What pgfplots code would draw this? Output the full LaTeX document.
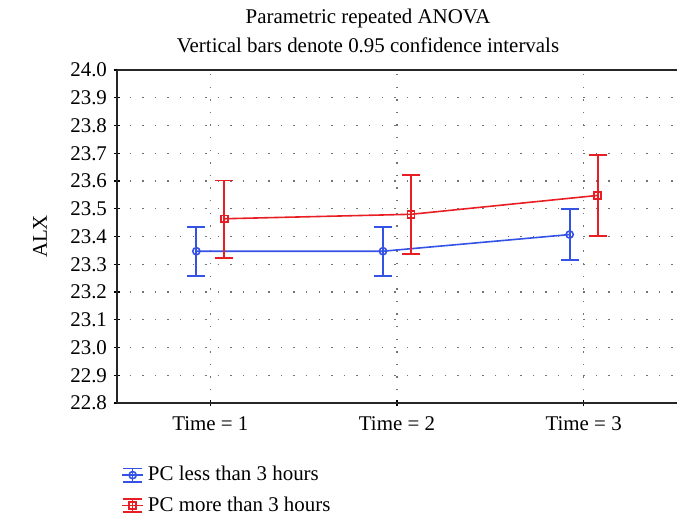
\documentclass[border=0pt]{standalone}
\usepackage{pgfplots}
\pgfplotsset{compat=1.18}
\usepackage{pgfplotstable}
\usepackage{fontspec}
\setmainfont{Liberation Serif}
\definecolor{cblue}{RGB}{52,82,230}
\definecolor{cred}{RGB}{232,30,36}
\pgfplotstableread{
x y ep em
0.925 23.347 0.087 0.089
1.925 23.347 0.088 0.090
2.925 23.407 0.091 0.091
}\bluedata
\pgfplotstableread{
x y ep em
1.075 23.464 0.138 0.141
2.075 23.480 0.142 0.143
3.075 23.548 0.147 0.147
}\reddata
\begin{document}
\begin{tikzpicture}
\useasboundingbox (-58.5bp,-61bp) rectangle (282.5bp,201.5bp);
\begin{axis}[
  at={(0,0)}, anchor=south west,
  width=280bp, height=166.5bp, scale only axis,
  xmin=0.5, xmax=3.5, ymin=22.8, ymax=24.0,
  axis x line=bottom, axis y line=left,
  axis line style={-, line width=0.8bp, black!85},
  xtick={1,2,3}, xticklabels={Time = 1, Time = 2, Time = 3},
  xticklabel style={yshift=-2bp},
  ytick={22.8,22.9,...,24.05},
  yticklabel style={/pgf/number format/.cd, fixed, fixed zerofill, precision=1},
  /pgf/number format/assume math mode=true,
  tick align=center, major tick length=3bp,
  tick style={black, line width=0.6bp},
  font=\fontsize{10.5}{12.5}\selectfont,
  grid=major,
  grid style={dash pattern=on 0.7bp off 5.6bp, black!55, line width=0.7bp},
  every axis y label/.style={at={(axis description cs:-0.1375,0.5)}, anchor=center, rotate=90},
  ylabel={ALX},
  legend style={at={(axis description cs:0,0)}, anchor=north west, xshift=-1bp, yshift=-27.5bp,
    draw=none, fill=none, row sep=2.5bp, font=\fontsize{10.5}{12.5}\selectfont},
  legend cell align=left,
  legend image code/.code={
    \draw[#1, mark=none] (0bp,0bp) -- (10.5bp,0bp);
    \draw[#1, mark=none] (5.25bp,-3.3bp) -- (5.25bp,3.3bp);
    \draw[#1, mark=none] (0.5bp,-3.3bp) -- (10bp,-3.3bp) (0.5bp,3.3bp) -- (10bp,3.3bp);
    \draw[#1] plot coordinates {(5.25bp,0bp)};
  },
  error bars/y dir=both, error bars/y explicit,
]
\addplot[cblue, line width=0.8bp, mark=o, mark size=1.8bp, mark options={solid, line width=0.8bp},
  error bars/error bar style={line width=0.9bp, draw=cblue, solid},
  error bars/error mark options={draw=cblue, line width=0.9bp, mark size=4.5bp, rotate=90}]
  table[x=x, y=y, y error plus=ep, y error minus=em] {\bluedata};
\addlegendentry{PC less than 3 hours}
\addplot[cred, line width=0.8bp, mark=square, mark size=1.7bp, mark options={solid, line width=0.8bp},
  error bars/error bar style={line width=0.9bp, draw=cred, solid},
  error bars/error mark options={draw=cred, line width=0.9bp, mark size=4.5bp, rotate=90}]
  table[x=x, y=y, y error plus=ep, y error minus=em] {\reddata};
\addlegendentry{PC more than 3 hours}
\end{axis}
\draw[line width=0.8bp, black!85] (0bp,166.5bp) -- (280bp,166.5bp);
\node[font=\fontsize{10.5}{12.5}\selectfont] at (125.5bp,192.5bp) {Parametric repeated ANOVA};
\node[font=\fontsize{10.5}{12.5}\selectfont] at (125.5bp,179bp) {Vertical bars denote 0.95 confidence intervals};
\end{tikzpicture}
\end{document}
